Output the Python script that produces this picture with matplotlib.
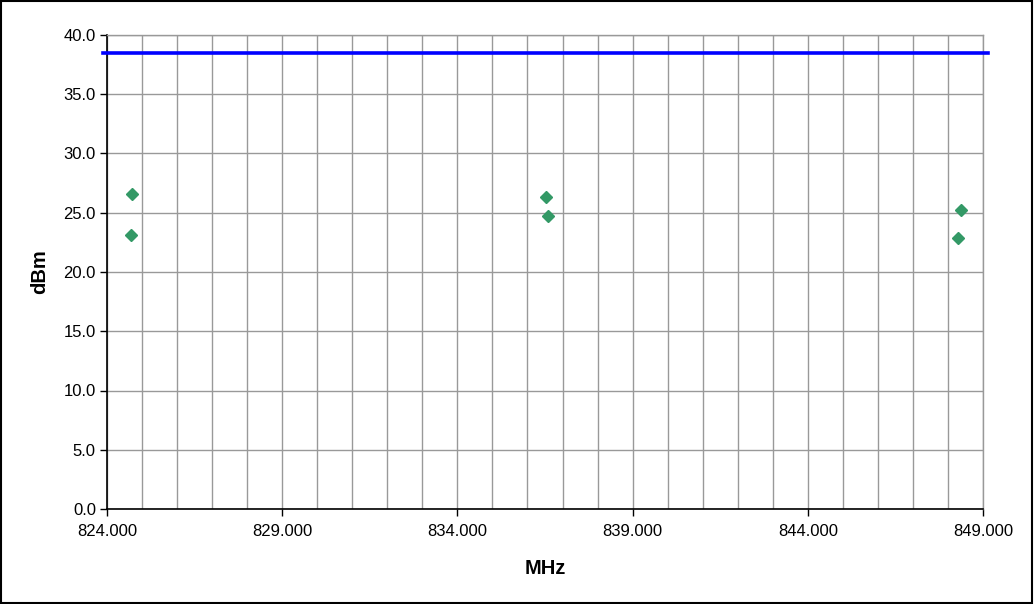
import matplotlib
matplotlib.use("Agg")
import matplotlib.pyplot as plt
import numpy as np
from matplotlib.patches import Rectangle
from matplotlib.ticker import FixedLocator, MultipleLocator, FormatStrFormatter

plt.rcParams['font.family'] = ['Liberation Sans', 'DejaVu Sans']

# measured output power per channel (two readings per channel)
freq_mhz = [824.72, 824.68, 836.53, 836.58, 848.36, 848.28]
power_dbm = [26.6, 23.1, 26.3, 24.7, 25.2, 22.9]
limit_dbm = 38.5

fig = plt.figure(figsize=(10.34, 6.04), dpi=100)
ax = fig.add_axes([107 / 1034, 1 - 509 / 604, (983 - 107) / 1034, (509 - 35) / 604])

# limit line runs a little past both ends of the plot area
ax.axhline(limit_dbm, xmin=-0.005, xmax=1.006, color='#0000ff', lw=2.6,
           clip_on=False, zorder=4)
ax.plot(freq_mhz, power_dbm, linestyle='none', marker='D', ms=6,
        color='#339966', zorder=5)

ax.set_xlim(824, 849)
ax.set_ylim(0, 40)
ax.xaxis.set_major_locator(FixedLocator(np.arange(824, 850, 5)))
ax.xaxis.set_minor_locator(FixedLocator(np.arange(824, 850, 1)))
ax.yaxis.set_major_locator(MultipleLocator(5))
ax.xaxis.set_major_formatter(FormatStrFormatter('%.3f'))
ax.yaxis.set_major_formatter(FormatStrFormatter('%.1f'))

ax.grid(which='both', axis='x', color='#999999', lw=1)
ax.grid(which='major', axis='y', color='#999999', lw=1)
ax.set_axisbelow(True)

for side in ('top', 'right'):
    ax.spines[side].set_color('#999999')
    ax.spines[side].set_linewidth(1)
for side in ('left', 'bottom'):
    ax.spines[side].set_color('black')
    ax.spines[side].set_linewidth(1.2)

ax.tick_params(which='major', direction='out', length=5, width=1,
               labelsize=12, pad=6, colors='black')
ax.tick_params(axis='y', which='major', pad=3)
ax.tick_params(which='minor', length=0)

ax.set_xlabel('MHz', fontsize=14.5, fontweight='bold', labelpad=14)
ax.set_ylabel('dBm', fontsize=14.5, fontweight='bold', labelpad=10)

# black frame around the whole chart
fig.patches.append(Rectangle((0.001, 0.001), 0.997, 0.997, transform=fig.transFigure,
                             fill=False, edgecolor='black', lw=1.5))

fig.savefig('out.png', dpi=100, facecolor='white')
